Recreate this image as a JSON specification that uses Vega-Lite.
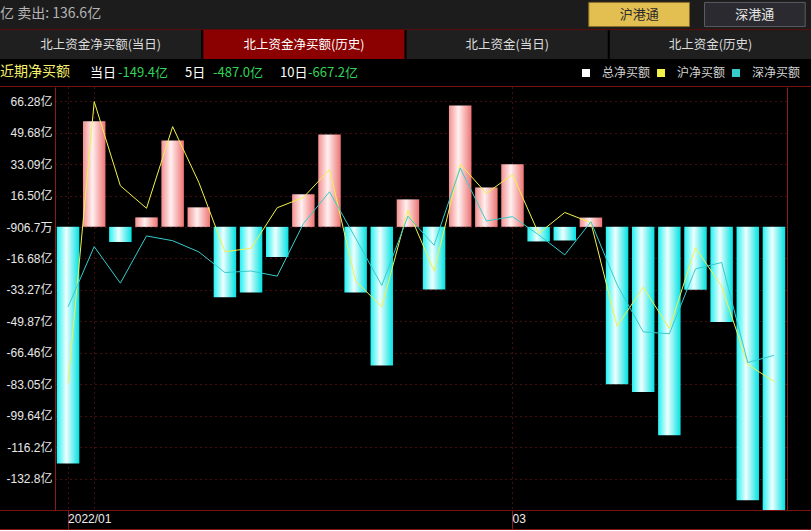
{
  "$schema": "https://vega.github.io/schema/vega-lite/v6.json",
  "background": "#000000",
  "padding": 0,
  "spacing": 0,
  "bounds": "flush",
  "config": {
    "view": {"stroke": null},
    "font": "Noto Sans CJK SC",
    "axis": {"labelFont": "Liberation Sans, Noto Sans CJK SC"}
  },
  "datasets": {
    "flow": [
      {"date": "2022-01-28", "total": -124.8, "sh": -82.6, "sz": -42.2},
      {"date": "2022-02-07", "total": 55.7, "sh": 66.1, "sz": -10.4},
      {"date": "2022-02-08", "total": -8.0, "sh": 21.7, "sz": -29.7},
      {"date": "2022-02-09", "total": 5.0, "sh": 9.8, "sz": -4.8},
      {"date": "2022-02-10", "total": 45.6, "sh": 52.9, "sz": -7.3},
      {"date": "2022-02-11", "total": 10.3, "sh": 23.5, "sz": -13.2},
      {"date": "2022-02-14", "total": -37.2, "sh": -13.1, "sz": -24.1},
      {"date": "2022-02-15", "total": -34.6, "sh": -11.3, "sz": -23.3},
      {"date": "2022-02-16", "total": -15.9, "sh": 10.1, "sz": -26.0},
      {"date": "2022-02-17", "total": 17.2, "sh": 15.5, "sz": 1.7},
      {"date": "2022-02-18", "total": 48.8, "sh": 30.3, "sz": 18.5},
      {"date": "2022-02-21", "total": -34.6, "sh": -28.6, "sz": -6.0},
      {"date": "2022-02-22", "total": -73.1, "sh": -42.2, "sz": -30.9},
      {"date": "2022-02-23", "total": 14.5, "sh": 8.9, "sz": 5.6},
      {"date": "2022-02-24", "total": -33.0, "sh": -23.3, "sz": -9.7},
      {"date": "2022-02-25", "total": 64.1, "sh": 33.1, "sz": 31.0},
      {"date": "2022-02-28", "total": 20.8, "sh": 17.7, "sz": 3.1},
      {"date": "2022-03-01", "total": 33.0, "sh": 27.6, "sz": 5.4},
      {"date": "2022-03-02", "total": -7.7, "sh": -3.5, "sz": -4.2},
      {"date": "2022-03-03", "total": -7.2, "sh": 7.6, "sz": -14.8},
      {"date": "2022-03-04", "total": 4.9, "sh": 2.2, "sz": 2.7},
      {"date": "2022-03-07", "total": -83.0, "sh": -52.5, "sz": -30.5},
      {"date": "2022-03-08", "total": -87.2, "sh": -31.8, "sz": -55.4},
      {"date": "2022-03-09", "total": -110.0, "sh": -53.6, "sz": -56.4},
      {"date": "2022-03-10", "total": -33.2, "sh": -11.0, "sz": -22.2},
      {"date": "2022-03-11", "total": -50.2, "sh": -31.4, "sz": -18.8},
      {"date": "2022-03-14", "total": -144.2, "sh": -72.6, "sz": -71.6},
      {"date": "2022-03-15", "total": -149.4, "sh": -81.6, "sz": -67.8}
    ]
  },
  "vconcat": [
    {
      "width": 811,
      "height": 29,
      "view": {"fill": "#1c1c1c", "stroke": null},
      "title": {"text": "亿  卖出: 136.6亿", "anchor": "start", "orient": "top", "offset": -21, "fontSize": 14, "fontWeight": "normal", "color": "#b4b4b4", "font": "Noto Sans CJK SC"},
      "data": {"values": [{"market": "沪港通", "selected": true}, {"market": "深港通", "selected": false}]},
      "encoding": {
        "x": {"field": "market", "type": "nominal", "sort": null, "axis": null, "scale": {"range": [583, 811], "paddingInner": 0.13, "paddingOuter": 0.05}},
        "y": {"datum": "button", "type": "nominal", "axis": null, "scale": {"paddingOuter": 0.1, "paddingInner": 0}}
      },
      "layer": [
        {"mark": {"type": "rect", "strokeWidth": 1}, "encoding": {"fill": {"condition": {"test": "datum.selected", "value": "#e3bf52"}, "value": "#2a2a30"}, "stroke": {"condition": {"test": "datum.selected", "value": "#8a6e26"}, "value": "#5c5c62"}}},
        {"mark": {"type": "text", "fontSize": 13, "font": "Noto Sans CJK SC"}, "encoding": {"text": {"field": "market"}, "color": {"condition": {"test": "datum.selected", "value": "#2a2a2a"}, "value": "#e6e6e6"}}}
      ]
    },
    {"width": 811, "height": 1, "view": {"fill": "#5a0b0b", "stroke": null}, "data": {"values": []}, "mark": "rect", "encoding": {}},
    {
      "width": 811,
      "height": 29,
      "view": {"fill": "#000000", "stroke": null},
      "data": {"values": [
        {"tab": "北上资金净买额(当日)", "active": false},
        {"tab": "北上资金净买额(历史)", "active": true},
        {"tab": "北上资金(当日)", "active": false},
        {"tab": "北上资金(历史)", "active": false}
      ]},
      "encoding": {"x": {"field": "tab", "type": "nominal", "sort": null, "axis": null, "scale": {"paddingInner": 0.01, "paddingOuter": 0}}},
      "layer": [
        {"mark": {"type": "rect"}, "encoding": {"fill": {"condition": {"test": "datum.active", "value": "#8b0000"}, "value": "#1f1f1f"}}},
        {"mark": {"type": "text", "fontSize": 12.5, "font": "Noto Sans CJK SC"}, "encoding": {"text": {"field": "tab"}, "color": {"condition": {"test": "datum.active", "value": "#ffffff"}, "value": "#dcdcdc"}}}
      ]
    },
    {
      "width": 811,
      "height": 27,
      "view": {"fill": "#000000", "stroke": null},
      "title": {"text": "近期净买额", "anchor": "start", "orient": "top", "offset": -20, "fontSize": 14, "fontWeight": "normal", "color": "#f6f06a", "font": "Noto Sans CJK SC"},
      "data": {"values": [{"period": "当日", "net": -149.4}, {"period": "5日", "net": -487.0}, {"period": "10日", "net": -667.2}]},
      "encoding": {"x": {"field": "period", "type": "nominal", "sort": null, "axis": null, "scale": {"type": "point", "range": [90, 280], "padding": 0}}},
      "layer": [
        {"mark": {"type": "text", "align": "left", "fontSize": 13, "color": "#ffffff", "font": "Noto Sans CJK SC"}, "encoding": {"text": {"field": "period"}}},
        {"mark": {"type": "text", "align": "left", "dx": 28, "fontSize": 13, "color": "#33d35a", "font": "Noto Sans CJK SC", "text": {"expr": "(datum.net < 0 ? '-' : '') + format(abs(datum.net), '.1f') + '亿'"}}, "encoding": {}}
      ]
    },
    {"width": 811, "height": 1, "view": {"fill": "#7a1212", "stroke": null}, "data": {"values": []}, "mark": "rect", "encoding": {}},
    {
      "width": 811,
      "height": 423,
      "view": {"fill": "#000000", "stroke": null},
      "data": {"name": "flow"},
      "resolve": {"axis": {"y": "independent"}},
      "encoding": {
        "x": {"field": "date", "type": "ordinal", "sort": "ascending", "scale": {"range": [55, 787], "paddingInner": 0.14, "paddingOuter": 0.07},
          "axis": {"title": null, "orient": "bottom", "values": ["2022-01-28", "2022-02-07", "2022-03-01"], "labelExpr": "datum.value == '2022-01-28' ? '2022/01' : (datum.value == '2022-03-01' ? '03' : '')", "bandPosition": 0.5, "domain": false, "ticks": true, "tickColor": {"condition": {"test": "datum.value == '2022-02-07'", "value": "transparent"}, "value": "#8b1a1a"}, "tickSize": 19, "grid": true, "gridColor": "#8b1a1a", "gridDash": [1, 4], "labelAlign": "left", "labelBaseline": "top", "labelPadding": -16, "labelDx": 2, "labelColor": "#ececec", "labelFontSize": 12, "labelAngle": 0, "labelOverlap": false, "labelFlush": false}}
      },
      "layer": [
        {
          "transform": [{"filter": "datum.total >= 0"}],
          "mark": {"type": "bar", "color": {"gradient": "linear", "x1": 0, "y1": 0, "x2": 1, "y2": 0, "stops": [{"offset": 0, "color": "#f39090"}, {"offset": 0.42, "color": "#fff0f0"}, {"offset": 1, "color": "#ee7474"}]}},
          "encoding": {
            "y": {"field": "total", "type": "quantitative", "scale": {"domain": [-149.4, 73.8], "nice": false, "zero": false},
              "axis": {"title": null, "orient": "left", "offset": -55, "values": [66.28, 49.68, 33.09, 16.5, -0.09067, -16.68, -33.27, -49.87, -66.46, -83.05, -99.64, -116.2, -132.8], "labelExpr": "abs(datum.value) < 1 ? '-906.7万' : (datum.value < 0 ? '-' : '') + format(abs(datum.value), '.4r') + '亿'", "domain": true, "domainColor": "#8b1a1a", "ticks": false, "grid": true, "gridColor": "#8b1a1a", "gridDash": [1, 4], "labelColor": "#e8e8e8", "labelFontSize": 12, "labelPadding": 3}},
            "y2": {"datum": 0}
          }
        },
        {
          "transform": [{"filter": "datum.total < 0"}],
          "mark": {"type": "bar", "color": {"gradient": "linear", "x1": 0, "y1": 0, "x2": 1, "y2": 0, "stops": [{"offset": 0, "color": "#22f2f2"}, {"offset": 0.42, "color": "#effefe"}, {"offset": 1, "color": "#00e2e2"}]}},
          "encoding": {
            "y": {"field": "total", "type": "quantitative", "scale": {"domain": [-149.4, 73.8], "nice": false, "zero": false}, "axis": null},
            "y2": {"datum": 0}
          }
        },
        {
          "mark": {"type": "line", "strokeWidth": 1},
          "encoding": {
            "y": {"field": "sh", "type": "quantitative", "scale": {"domain": [-149.4, 73.8], "nice": false, "zero": false},
              "axis": {"title": null, "orient": "right", "offset": -24, "labels": false, "ticks": false, "grid": false, "domain": true, "domainColor": "#8b1a1a"}},
            "color": {"datum": "沪净买额", "type": "nominal",
              "scale": {"domain": ["总净买额", "沪净买额", "深净买额"], "range": ["#ffffff", "#f2f24a", "#35cccc"]},
              "legend": {"title": null, "orient": "none", "legendX": 580, "legendY": 67, "direction": "horizontal", "symbolType": "square", "symbolSize": 16, "symbolStrokeWidth": 4, "labelColor": "#d2d2d2", "labelFontSize": 12, "labelFont": "Noto Sans CJK SC", "labelOffset": 10, "columnPadding": 0, "padding": 0}}
          }
        },
        {
          "mark": {"type": "line", "strokeWidth": 1},
          "encoding": {
            "y": {"field": "sz", "type": "quantitative", "scale": {"domain": [-149.4, 73.8], "nice": false, "zero": false}, "axis": null},
            "color": {"datum": "深净买额", "type": "nominal",
              "scale": {"domain": ["总净买额", "沪净买额", "深净买额"], "range": ["#ffffff", "#f2f24a", "#35cccc"]},
              "legend": {"title": null, "orient": "none", "legendX": 580, "legendY": 67, "direction": "horizontal", "symbolType": "square", "symbolSize": 16, "symbolStrokeWidth": 4, "labelColor": "#d2d2d2", "labelFontSize": 12, "labelFont": "Noto Sans CJK SC", "labelOffset": 10, "columnPadding": 0, "padding": 0}}
          }
        }
      ]
    },
    {"width": 811, "height": 1, "view": {"fill": "#7a1212", "stroke": null}, "data": {"values": []}, "mark": "rect", "encoding": {}},
    {"width": 811, "height": 18, "view": {"fill": null, "stroke": null}, "data": {"values": []}, "mark": "rect", "encoding": {}},
    {"width": 811, "height": 1, "view": {"fill": "#7a1212", "stroke": null}, "data": {"values": []}, "mark": "rect", "encoding": {}}
  ]
}
